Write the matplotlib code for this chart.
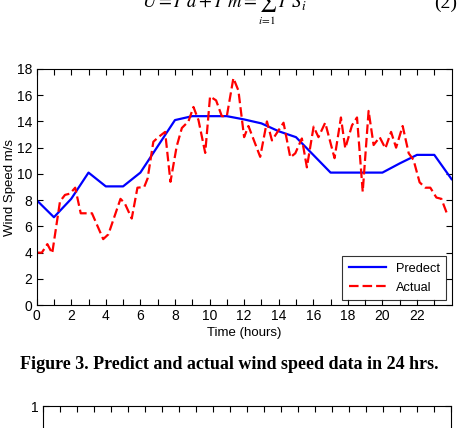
import matplotlib
matplotlib.use("Agg")
import matplotlib.pyplot as plt
import numpy as np

plt.rcParams['font.family'] = ['Liberation Sans', 'DejaVu Sans']
plt.rcParams['mathtext.fontset'] = 'stix'

# predicted wind speed, one value per hour
hours = list(range(0, 25))
predict = [8.0, 6.7, 8.1, 10.1, 9.05, 9.05, 10.1, 12.1, 14.1, 14.4, 14.4, 14.4,
           14.15, 13.85, 13.25, 12.8, 11.45, 10.1, 10.1, 10.1, 10.1, 10.8, 11.45,
           11.45, 9.6]

# measured wind speed
actual_t = [0.0, 0.3, 0.62, 0.9, 1.35, 1.64, 1.93, 2.23, 2.55, 3.2, 3.85, 4.15,
            4.85, 5.1, 5.5, 5.83, 6.22, 6.42, 6.75, 7.04, 7.43, 7.74, 8.1, 8.4,
            8.78, 9.07, 9.36, 9.75, 10.03, 10.38, 10.71, 11.0, 11.38, 11.67, 12.0,
            12.25, 12.93, 13.32, 13.61, 14.28, 14.67, 14.96, 15.34, 15.63, 16.02,
            16.3, 16.69, 17.23, 17.6, 17.85, 18.24, 18.53, 18.86, 19.2, 19.49,
            19.84, 20.17, 20.5, 20.79, 21.17, 21.52, 21.8, 22.15, 22.48, 22.77,
            23.12, 23.41, 23.74]
actual = [4.0, 4.0, 4.65, 3.95, 7.9, 8.4, 8.5, 8.95, 7.0, 7.0, 5.03, 5.4,
          8.1, 7.75, 6.6, 8.95, 9.0, 9.66, 12.45, 12.8, 13.2, 9.4, 12.1, 13.5,
          14.0, 15.1, 14.1, 11.6, 15.9, 15.6, 14.4, 14.4, 17.3, 16.35, 12.8,
          13.65, 11.3, 14.0, 12.55, 13.9, 11.26, 11.57, 12.7, 10.5, 13.6,
          12.8, 13.9, 11.2, 14.3, 11.95, 13.7, 14.3, 8.64, 14.8, 12.2,
          12.8, 11.95, 13.2, 12.0, 13.65, 11.57, 11.06, 9.36, 8.95, 8.95,
          8.2, 8.1, 6.95]

fig = plt.figure(figsize=(4.58, 4.28), dpi=100)

# equation fragment cut off at the top of the page crop
fig.text(0.31, 0.981, r"$U = I'd + I'm = \sum\, I'S_i$", ha='left', va='baseline',
         fontsize=13.5)
fig.text(0.582, 0.953, r"$i\!=\!1$", ha='center', va='center', fontsize=8)
fig.text(0.997, 0.981, "(2)", ha='right', va='baseline', fontsize=14,
         family='Liberation Serif')

ax = fig.add_axes([0.080, 0.287, 0.906, 0.552])
ax.plot(hours, predict, color='#0000ff', lw=1.6, label='Predect')
ax.plot(actual_t, actual, color='#ff0000', lw=1.6, ls='--', dashes=(4.3, 1.8),
        label='Actual')
ax.set_xlim(0, 24)
ax.set_ylim(0, 18)
ax.set_xticks(range(0, 24, 2))
ax.set_xticks(range(1, 24, 2), minor=True)
ax.set_yticks(range(0, 19, 2))
ax.tick_params(which='both', direction='in', top=True, right=True, length=4,
               width=0.8, labelsize=10, pad=3)
ax.set_xlabel('Time (hours)', fontsize=9.5, labelpad=3)
ax.set_ylabel('Wind Speed m/s', fontsize=9.5, labelpad=1)
for s in ax.spines.values():
    s.set_linewidth(0.8)
leg = ax.legend(loc='lower right', fontsize=9.2, frameon=True, fancybox=False,
                edgecolor='black', handlelength=2.9, borderaxespad=0.4,
                labelspacing=0.55, borderpad=0.5)
leg.get_frame().set_linewidth(0.8)

fig.text(0.5, 0.148, 'Figure 3. Predict and actual wind speed data in 24 hrs.',
         ha='center', va='center', fontsize=13, fontweight='bold',
         family='Liberation Serif')

# next figure, only its top edge is visible
ax2 = fig.add_axes([0.093, -0.6, 0.891, 0.6514])
ax2.set_xlim(0, 24)
ax2.set_ylim(0, 1)
ax2.set_xticks(range(0, 25))
ax2.set_xticklabels([])
ax2.set_yticks([1])
ax2.tick_params(direction='in', top=True, right=True, length=4, width=0.8,
                labelsize=10, pad=3)
for s in ax2.spines.values():
    s.set_linewidth(0.8)

fig.savefig('out.png', dpi=100)
